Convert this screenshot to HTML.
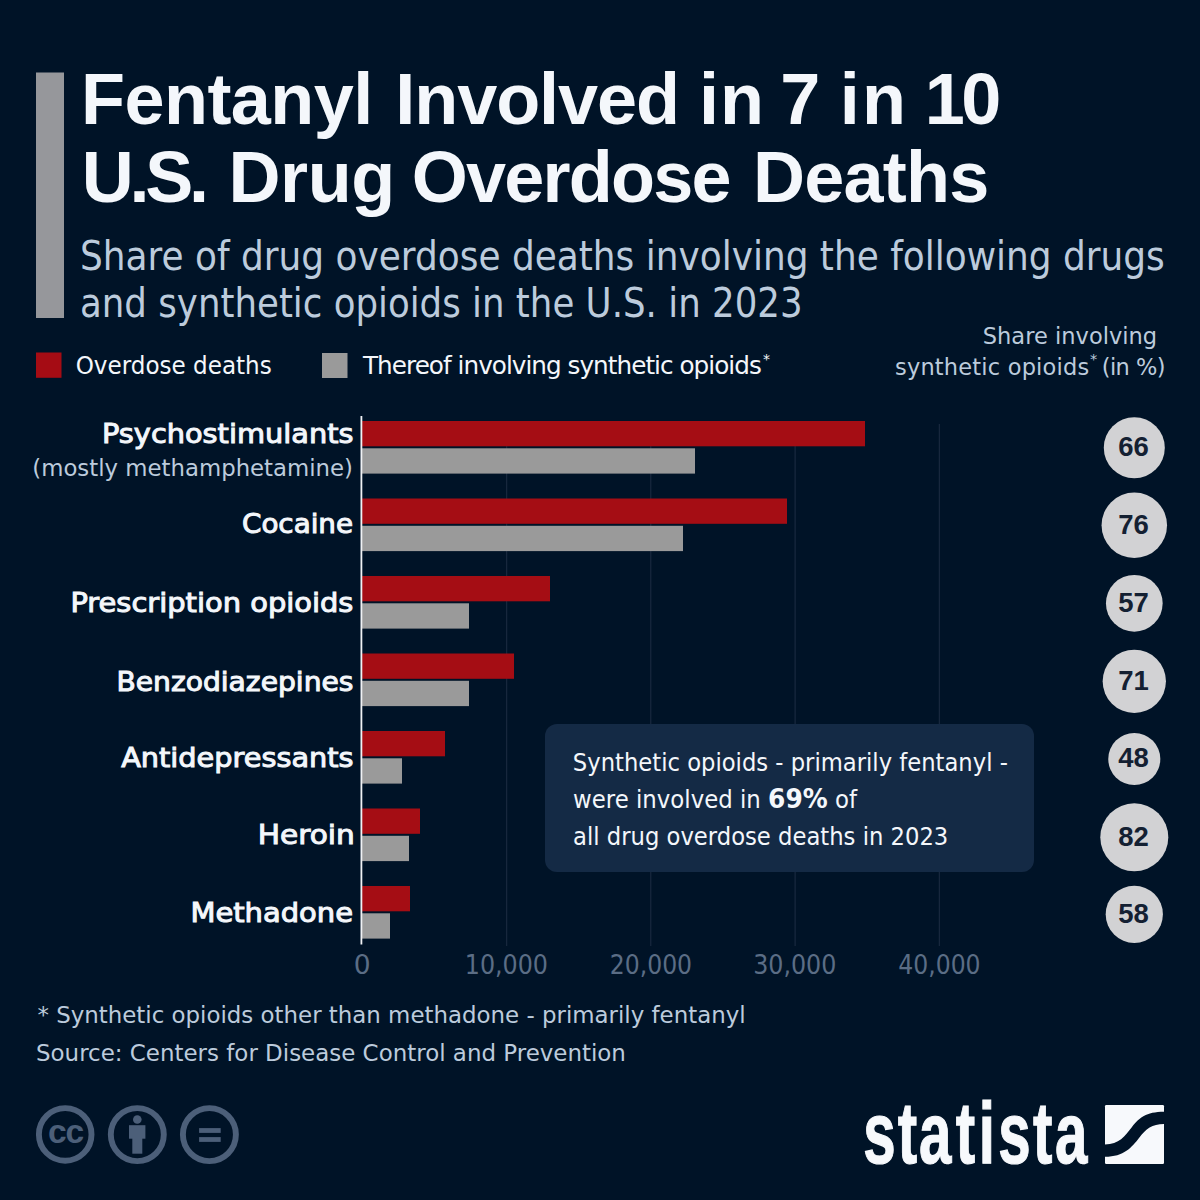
<!DOCTYPE html>
<html><head><meta charset="utf-8"><style>
html,body{margin:0;padding:0;background:#001327;}
svg{display:block;}
text{font-family:"Liberation Sans",sans-serif;}
</style></head><body>
<svg width="1200" height="1200" viewBox="0 0 1200 1200">
<rect width="1200" height="1200" fill="#001327"/>
<rect x="36" y="72.5" width="28" height="245.5" fill="#96979b"/>
<rect x="36" y="352.5" width="25.5" height="25.3" fill="#a50c14"/>
<rect x="322" y="353" width="25.5" height="25" fill="#9a9a9a"/>
<rect x="506.2" y="424" width="1" height="522" fill="#1d2d44"/>
<rect x="650.3" y="424" width="1" height="522" fill="#1d2d44"/>
<rect x="794.6" y="424" width="1" height="522" fill="#1d2d44"/>
<rect x="938.8" y="424" width="1" height="522" fill="#1d2d44"/>
<rect x="545" y="724" width="489" height="148" rx="12" fill="#142a45"/>
<rect x="362" y="421" width="503" height="25.3" fill="#a50d14"/>
<rect x="362" y="448.3" width="333" height="25.3" fill="#9a9a9a"/>
<rect x="362" y="498.5" width="425" height="25.3" fill="#a50d14"/>
<rect x="362" y="525.8" width="321" height="25.3" fill="#9a9a9a"/>
<rect x="362" y="576" width="188" height="25.3" fill="#a50d14"/>
<rect x="362" y="603.3" width="107" height="25.3" fill="#9a9a9a"/>
<rect x="362" y="653.5" width="152" height="25.3" fill="#a50d14"/>
<rect x="362" y="680.8" width="107" height="25.3" fill="#9a9a9a"/>
<rect x="362" y="731" width="83" height="25.3" fill="#a50d14"/>
<rect x="362" y="758.3" width="40" height="25.3" fill="#9a9a9a"/>
<rect x="362" y="808.5" width="58" height="25.3" fill="#a50d14"/>
<rect x="362" y="835.8" width="47" height="25.3" fill="#9a9a9a"/>
<rect x="362" y="886" width="48" height="25.3" fill="#a50d14"/>
<rect x="362" y="913.3" width="28" height="25.3" fill="#9a9a9a"/>
<rect x="360.5" y="416" width="1.8" height="528.5" fill="#f0f2f5"/>
<circle cx="1134.3" cy="447.7" r="30.51" fill="#d2d2d4"/>
<text x="1133.6" y="456.0" text-anchor="middle" fill="#142032" style="font-family:'Liberation Sans',sans-serif;font-weight:700;font-size:27.5px">66</text>
<circle cx="1134.3" cy="525.3" r="32.74" fill="#d2d2d4"/>
<text x="1133.6" y="533.6" text-anchor="middle" fill="#142032" style="font-family:'Liberation Sans',sans-serif;font-weight:700;font-size:27.5px">76</text>
<circle cx="1134.3" cy="603.3" r="28.35" fill="#d2d2d4"/>
<text x="1133.6" y="611.6" text-anchor="middle" fill="#142032" style="font-family:'Liberation Sans',sans-serif;font-weight:700;font-size:27.5px">57</text>
<circle cx="1134.3" cy="681.3" r="31.64" fill="#d2d2d4"/>
<text x="1133.6" y="689.6" text-anchor="middle" fill="#142032" style="font-family:'Liberation Sans',sans-serif;font-weight:700;font-size:27.5px">71</text>
<circle cx="1134.3" cy="759" r="26.02" fill="#d2d2d4"/>
<text x="1133.6" y="767.3" text-anchor="middle" fill="#142032" style="font-family:'Liberation Sans',sans-serif;font-weight:700;font-size:27.5px">48</text>
<circle cx="1134.3" cy="837.3" r="34.00" fill="#d2d2d4"/>
<text x="1133.6" y="845.6" text-anchor="middle" fill="#142032" style="font-family:'Liberation Sans',sans-serif;font-weight:700;font-size:27.5px">82</text>
<circle cx="1134.3" cy="914.3" r="28.60" fill="#d2d2d4"/>
<text x="1133.6" y="922.6" text-anchor="middle" fill="#142032" style="font-family:'Liberation Sans',sans-serif;font-weight:700;font-size:27.5px">58</text>
<text y="123.7" fill="#f4f7fb" xml:space="preserve"><tspan x="81.00" style="font-family:'Liberation Sans',sans-serif;font-weight:700;font-size:72px;letter-spacing:-0.535px">Fentanyl </tspan><tspan x="395.30" style="font-family:'Liberation Sans',sans-serif;font-weight:700;font-size:72px;letter-spacing:-1.057px">Involved </tspan><tspan x="698.90" style="font-family:'Liberation Sans',sans-serif;font-weight:700;font-size:72px;letter-spacing:0.996px">in </tspan><tspan x="780.30" style="font-family:'Liberation Sans',sans-serif;font-weight:700;font-size:72px;letter-spacing:0.000px">7 </tspan><tspan x="839.70" style="font-family:'Liberation Sans',sans-serif;font-weight:700;font-size:72px;letter-spacing:2.296px">in </tspan><tspan x="924.70" style="font-family:'Liberation Sans',sans-serif;font-weight:700;font-size:72px;letter-spacing:-3.443px">10</tspan></text>
<text y="201.5" fill="#f4f7fb" xml:space="preserve"><tspan x="81.70" style="font-family:'Liberation Sans',sans-serif;font-weight:700;font-size:72px;letter-spacing:-4.241px">U.S. </tspan><tspan x="228.50" style="font-family:'Liberation Sans',sans-serif;font-weight:700;font-size:72px;letter-spacing:-0.415px">Drug </tspan><tspan x="411.75" style="font-family:'Liberation Sans',sans-serif;font-weight:700;font-size:72px;letter-spacing:-1.780px">Overdose </tspan><tspan x="752.90" style="font-family:'Liberation Sans',sans-serif;font-weight:700;font-size:72px;letter-spacing:-0.728px">Deaths</tspan></text>
<text transform="translate(79.93 0) scale(0.8868 1)" y="270" fill="#bccbdc" xml:space="preserve"><tspan style="font-family:'DejaVu Sans',sans-serif;font-weight:400;font-size:40.5px">Share of drug overdose deaths involving the following drugs</tspan></text>
<text transform="translate(79.94 0) scale(0.8796 1)" y="317.5" fill="#bccbdc" xml:space="preserve"><tspan style="font-family:'DejaVu Sans',sans-serif;font-weight:400;font-size:40.5px">and synthetic opioids in the U.S. in 2023</tspan></text>
<text transform="translate(75.67 0) scale(0.9349 1)" y="374" fill="#f4f7fb" xml:space="preserve"><tspan style="font-family:'DejaVu Sans',sans-serif;font-weight:400;font-size:24.7px">Overdose deaths</tspan></text>
<text y="374" fill="#f4f7fb" xml:space="preserve"><tspan x="363.00" style="font-family:'DejaVu Sans',sans-serif;font-weight:400;font-size:24.7px;letter-spacing:-0.971px">Thereof involving synthetic opioids</tspan><tspan x="763.10" dy="-10" style="font-family:'DejaVu Sans',sans-serif;font-weight:400;font-size:14px;letter-spacing:0.000px">*</tspan></text>
<text transform="translate(982.75 0) scale(1.0029 1)" y="343.75" fill="#bccbdc" xml:space="preserve"><tspan style="font-family:'DejaVu Sans',sans-serif;font-weight:400;font-size:22.5px">Share involving</tspan></text>
<text y="375" fill="#bccbdc" xml:space="preserve"><tspan x="895.00" style="font-family:'DejaVu Sans',sans-serif;font-weight:400;font-size:22.5px;letter-spacing:0.186px">synthetic opioids</tspan><tspan x="1090.00" dy="-10.7" style="font-family:'DejaVu Sans',sans-serif;font-weight:400;font-size:14.5px;letter-spacing:0.000px">*</tspan><tspan x="1101.70" dy="10.7" style="font-family:'DejaVu Sans',sans-serif;font-weight:400;font-size:22.5px;letter-spacing:-0.554px">(in %)</tspan></text>
<text transform="translate(102.00 0) scale(1.0674 1)" y="442.6" fill="#f4f7fb" stroke="#f4f7fb" stroke-width="1.0" xml:space="preserve"><tspan style="font-family:'DejaVu Sans',sans-serif;font-weight:400;font-size:27px">Psychostimulants</tspan></text>
<text transform="translate(241.99 0) scale(1.0291 1)" y="533" fill="#f4f7fb" stroke="#f4f7fb" stroke-width="1.0" xml:space="preserve"><tspan style="font-family:'DejaVu Sans',sans-serif;font-weight:400;font-size:27px">Cocaine</tspan></text>
<text transform="translate(70.39 0) scale(1.0717 1)" y="611.75" fill="#f4f7fb" stroke="#f4f7fb" stroke-width="1.0" xml:space="preserve"><tspan style="font-family:'DejaVu Sans',sans-serif;font-weight:400;font-size:27px">Prescription opioids</tspan></text>
<text transform="translate(116.44 0) scale(1.0432 1)" y="691" fill="#f4f7fb" stroke="#f4f7fb" stroke-width="1.0" xml:space="preserve"><tspan style="font-family:'DejaVu Sans',sans-serif;font-weight:400;font-size:27px">Benzodiazepines</tspan></text>
<text transform="translate(121.13 0) scale(1.0658 1)" y="766.8" fill="#f4f7fb" stroke="#f4f7fb" stroke-width="1.0" xml:space="preserve"><tspan style="font-family:'DejaVu Sans',sans-serif;font-weight:400;font-size:27px">Antidepressants</tspan></text>
<text transform="translate(257.66 0) scale(1.0967 1)" y="843.8" fill="#f4f7fb" stroke="#f4f7fb" stroke-width="1.0" xml:space="preserve"><tspan style="font-family:'DejaVu Sans',sans-serif;font-weight:400;font-size:27px">Heroin</tspan></text>
<text transform="translate(190.39 0) scale(1.0739 1)" y="921.8" fill="#f4f7fb" stroke="#f4f7fb" stroke-width="1.0" xml:space="preserve"><tspan style="font-family:'DejaVu Sans',sans-serif;font-weight:400;font-size:27px">Methadone</tspan></text>
<text transform="translate(32.26 0) scale(0.9712 1)" y="475.7" fill="#bccbdc" xml:space="preserve"><tspan style="font-family:'DejaVu Sans',sans-serif;font-weight:400;font-size:23.5px">(mostly methamphetamine)</tspan></text>
<text x="353.75" y="974" fill="#5b6d85" xml:space="preserve"><tspan style="font-family:'DejaVu Sans',sans-serif;font-weight:400;font-size:26.5px">0</tspan></text>
<text transform="translate(464.75 0) scale(0.8980 1)" y="974" fill="#5b6d85" xml:space="preserve"><tspan style="font-family:'DejaVu Sans',sans-serif;font-weight:400;font-size:26.5px">10,000</tspan></text>
<text transform="translate(609.76 0) scale(0.8881 1)" y="974" fill="#5b6d85" xml:space="preserve"><tspan style="font-family:'DejaVu Sans',sans-serif;font-weight:400;font-size:26.5px">20,000</tspan></text>
<text transform="translate(753.15 0) scale(0.8980 1)" y="974" fill="#5b6d85" xml:space="preserve"><tspan style="font-family:'DejaVu Sans',sans-serif;font-weight:400;font-size:26.5px">30,000</tspan></text>
<text transform="translate(898.26 0) scale(0.8881 1)" y="974" fill="#5b6d85" xml:space="preserve"><tspan style="font-family:'DejaVu Sans',sans-serif;font-weight:400;font-size:26.5px">40,000</tspan></text>
<text transform="translate(572.87 0) scale(0.9335 1)" y="770.9" fill="#f4f7fb" xml:space="preserve"><tspan style="font-family:'DejaVu Sans',sans-serif;font-weight:400;font-size:24.3px">Synthetic opioids - primarily fentanyl -</tspan></text>
<text transform="translate(573.06 0) scale(0.9406 1)" y="808" fill="#f4f7fb" xml:space="preserve"><tspan style="font-family:'DejaVu Sans',sans-serif;font-weight:400;font-size:24.3px">were involved in </tspan><tspan style="font-family:'DejaVu Sans',sans-serif;font-weight:700;font-size:26.5px">69%</tspan><tspan style="font-family:'DejaVu Sans',sans-serif;font-weight:400;font-size:24.3px"> of</tspan></text>
<text transform="translate(573.07 0) scale(0.9347 1)" y="844.75" fill="#f4f7fb" xml:space="preserve"><tspan style="font-family:'DejaVu Sans',sans-serif;font-weight:400;font-size:24.3px">all drug overdose deaths in 2023</tspan></text>
<text transform="translate(37.50 0) scale(0.9749 1)" y="1023.25" fill="#bccbdc" xml:space="preserve"><tspan style="font-family:'DejaVu Sans',sans-serif;font-weight:400;font-size:23.5px">* Synthetic opioids other than methadone - primarily fentanyl</tspan></text>
<text transform="translate(36.02 0) scale(0.9763 1)" y="1061.5" fill="#bccbdc" xml:space="preserve"><tspan style="font-family:'DejaVu Sans',sans-serif;font-weight:400;font-size:23.5px">Source: Centers for Disease Control and Prevention</tspan></text>
<g fill="none" stroke="#4c5f79" stroke-width="5.9">
<circle cx="65.2" cy="1134.4" r="26.3"/>
<circle cx="137.3" cy="1134.6" r="26.5"/>
<circle cx="209.4" cy="1134.6" r="26.5"/>
</g>
<g fill="#4c5f79">
<text x="65.4" y="1143.3" text-anchor="middle" style="font-family:'Liberation Sans',sans-serif;font-weight:700;font-size:33.6px;letter-spacing:-1.3px">cc</text>
<circle cx="137.3" cy="1119.5" r="4.3"/>
<rect x="129" y="1125.2" width="16.4" height="13.5"/>
<rect x="132.3" y="1138" width="10" height="15.7"/>
<rect x="199.1" y="1128.1" width="21.6" height="4.8"/>
<rect x="199.1" y="1137.1" width="21.6" height="4.8"/>
</g>
<text transform="translate(865.5 1162.7) scale(0.67 1)" x="-3.55 48.19 80.02 134.75 168.99 198.24 249.83 282.71" y="0" fill="#f7f9fc" stroke="#f7f9fc" stroke-width="1.2" style="font-family:'Liberation Sans',sans-serif;font-weight:700;font-size:87px">statista</text>
<g transform="translate(1105 1105)">
<rect width="59" height="59" rx="1.2" fill="#f7f9fc"/>
<path d="M0,39.5 C14,39.5 20,31 27,22 C34,13 41,6.8 59,6.8 L59,19.1 C47,19.1 41,24 34,33 C27,42 19,51.8 0,51.8 Z" fill="#001327"/>
</g>
</svg>
</body></html>
